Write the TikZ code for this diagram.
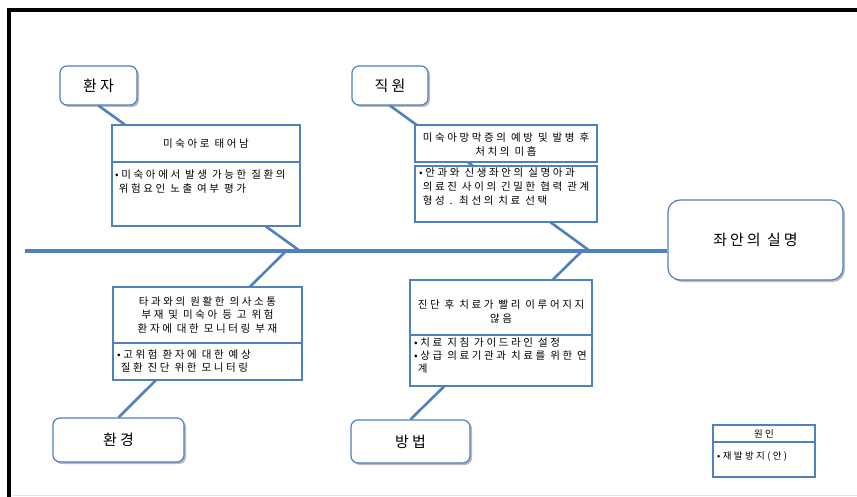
\documentclass[tikz,border=0pt]{standalone}
\usepackage{fontspec}
\setmainfont{Noto Sans CJK KR}
\newfontfamily\kr{Noto Sans CJK KR}[LetterSpace=25]
\newfontfamily\krl{Noto Sans CJK KR}[LetterSpace=20]
\usetikzlibrary{shadows}
\definecolor{bone}{RGB}{79,129,189}
\begin{document}
\begin{tikzpicture}[x=1pt,y=-1pt,
  bonel/.style={draw=bone, line width=2.6pt},
  spinel/.style={draw=bone, line width=4pt},
  lab/.style={draw=bone, line width=1.2pt, rounded corners=7pt, fill=white,
    drop shadow={shadow xshift=2pt,shadow yshift=-2pt,fill=black!45,opacity=0.6},
    font=\fontsize{15}{17}\selectfont\krl, inner sep=0pt},
  headbox/.style={lab, rounded corners=12pt, font=\fontsize{15}{18}\selectfont\krl},
  cbox/.style={draw=bone, line width=1.6pt, fill=white, inner sep=0pt},
  htext/.style={font=\fontsize{10.5}{14}\selectfont\kr, align=center, inner sep=0pt},
  btext/.style={font=\fontsize{10.5}{14}\selectfont\kr, align=left, inner sep=0pt, anchor=north west},
  ltext/.style={font=\fontsize{9.5}{12}\selectfont\kr, inner sep=0pt}
]
\useasboundingbox (0,0) rectangle (857,497);
\fill[white] (0,0) rectangle (857,497);
% frame
\draw[line width=4pt] (9,497) -- (9,10.5) -- (857,10.5);
\draw[black!12, line width=0.8pt] (13,495) -- (857,495);

% labels and head
\node[lab, minimum width=77pt, minimum height=39pt] (pat) at (98.5,85.5) {환자};
\node[lab, minimum width=76pt, minimum height=39pt] (staff) at (390,85.5) {직원};
\node[lab, minimum width=131pt, minimum height=44pt] (env) at (118.5,440) {환경};
\node[lab, minimum width=119pt, minimum height=43pt] (meth) at (410.5,441.5) {방법};
\node[headbox, minimum width=175pt, minimum height=80pt] (head) at (755.5,240) {좌안의 실명};

% spine and bones
\coordinate (tail) at (25,251);
\coordinate (j1) at (300,251);
\coordinate (j2) at (590,251);
\coordinate (j3) at (286,251);
\coordinate (j4) at (582,251);
\draw[spinel] (tail) -- (head.west |- tail);
\draw[bonel] (pat.south) -- (j1);
\draw[bonel] (staff.south) -- (j2);
\draw[bonel] (env.north) -- (j3);
\draw[bonel] (meth.north) -- (j4);

% cause box 1 (patient)
\node[cbox, minimum width=188pt, minimum height=37pt] (h1) at (206,143.5) {};
\node[cbox, minimum width=188pt, minimum height=64pt] (b1) at (206,194) {};
\node[htext] (h1t) at (h1.center) {미숙아로 태어남};
\node[btext] (b1t) at (115,169.5) {•미숙아에서 발생 가능한 질환의\\\hphantom{•}위험요인 노출 여부 평가};

% cause box 2 (staff)
\node[cbox, minimum width=182pt, minimum height=37pt] (h2) at (506,143.5) {};
\node[cbox, minimum width=182pt, minimum height=56pt] (b2) at (506,194) {};
\node[htext] (h2t) at (506,145) {미숙아망막증의 예방 및 발병 후\\처치의 미흡};
\node[btext] (b2t) at (419,167.5) {•안과와 신생좌안의 실명아과\\\hphantom{•}의료진 사이의 긴밀한 협력 관계\\\hphantom{•}형성 . 최선의 치료 선택};

% cause box 3 (environment)
\node[cbox, minimum width=189pt, minimum height=56pt] (h3) at (207.5,315) {};
\node[cbox, minimum width=189pt, minimum height=37pt] (b3) at (207.5,361.5) {};
\node[htext, font=\fontsize{10.5}{13.2}\selectfont\kr] (h3t) at (h3.center) {타과와의 원활한 의사소통\\부재 및 미숙아 등 고 위험\\환자에 대한 모니터링 부재};
\node[btext, font=\fontsize{10.5}{13.2}\selectfont\kr] (b3t) at (117,349.5) {•고위험 환자에 대한 예상\\\hphantom{•}질환 진단 위한 모니터링};

% cause box 4 (method)
\node[cbox, minimum width=182pt, minimum height=55pt] (h4) at (501,307.5) {};
\node[cbox, minimum width=182pt, minimum height=51pt] (b4) at (501,360.5) {};
\node[htext, font=\fontsize{10.5}{13.2}\selectfont\kr] (h4t) at (501,311.5) {진단 후 치료가 빨리 이루어지지\\않음};
\node[btext, font=\fontsize{10.5}{13}\selectfont\kr] (b4t) at (414,337.5) {•치료 지침 가이드라인 설정\\•상급 의료기관과 치료를 위한 연\\\hphantom{•}계};

% legend
\node[cbox, line width=1.3pt, minimum width=102pt, minimum height=17pt] (lh) at (764,433.5) {};
\node[cbox, line width=1.3pt, minimum width=102pt, minimum height=35pt] (lb) at (764,459.5) {};
\node[ltext] (lht) at (lh.center) {원인};
\node[ltext, anchor=west] (lbt) at (717,457) {•재발방지(안)};
\end{tikzpicture}
\end{document}
